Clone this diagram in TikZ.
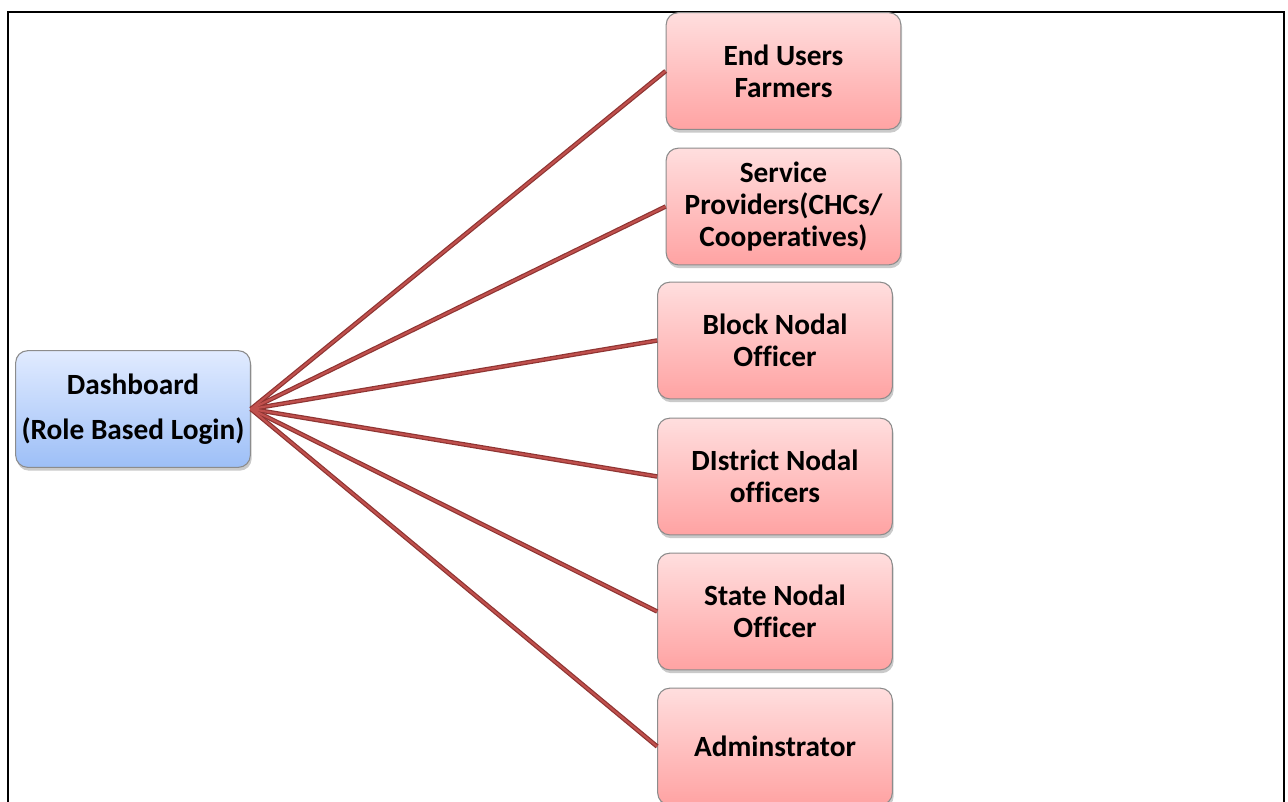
\documentclass[tikz,border=0pt]{standalone}
\usepackage{fontspec}
\setmainfont[Ligatures={NoCommon}]{Carlito}
\usetikzlibrary{shadows}
\definecolor{redtop}{HTML}{FFDEDE}
\definecolor{redbot}{HTML}{FFA3A3}
\definecolor{bluetop}{HTML}{E1EBFF}
\definecolor{bluebot}{HTML}{9DBFF7}
\definecolor{boxedge}{HTML}{8C8C8C}
\definecolor{linkout}{HTML}{8E3432}
\definecolor{linkin}{HTML}{C0504D}
\tikzset{
  x=0.75pt, y=-0.75pt,
  rolebox/.style={draw=boxedge, line width=0.8pt, rounded corners=9pt,
    top color=redtop, bottom color=redbot,
    minimum width=176pt, minimum height=87.5pt, align=center,
    font=\fontsize{22}{24}\selectfont\bfseries,
    drop shadow={shadow xshift=1pt, shadow yshift=-2.5pt, opacity=0.35, fill=black!60}},
  dashbox/.style={rolebox, top color=bluetop, bottom color=bluebot},
  linkback/.style={draw=linkout, line width=3.4pt},
  linkfront/.style={draw=linkin, line width=1.6pt},
  frame/.style={draw=black, line width=1.6pt}
}
\begin{document}
\begin{tikzpicture}
\useasboundingbox (0,0) rectangle (1288,801);
\draw[frame] (8,820) -- (8,12) -- (1284,12) -- (1284,820);
\node[dashbox] (dash) at (133,409) {Dashboard\\[10pt](Role Based Login)};
\node[rolebox] (eu) at (783.5,71) {End Users\\Farmers};
\node[rolebox] (sp) at (783.5,206.5) {Service\\Providers(CHCs/\\Cooperatives)};
\node[rolebox] (bn) at (775,340.5) {Block Nodal\\Officer};
\node[rolebox] (dn) at (775,476.5) {DIstrict Nodal\\officers};
\node[rolebox] (sn) at (775,611.5) {State Nodal\\Officer};
\node[rolebox] (ad) at (775,746.5) {Adminstrator};
\foreach \t in {eu,sp,bn,dn,sn,ad}{
  \draw[linkback] (dash.east) -- (\t.west);
}
\foreach \t in {eu,sp,bn,dn,sn,ad}{
  \draw[linkfront] (dash.east) -- (\t.west);
}
\end{tikzpicture}
\end{document}
